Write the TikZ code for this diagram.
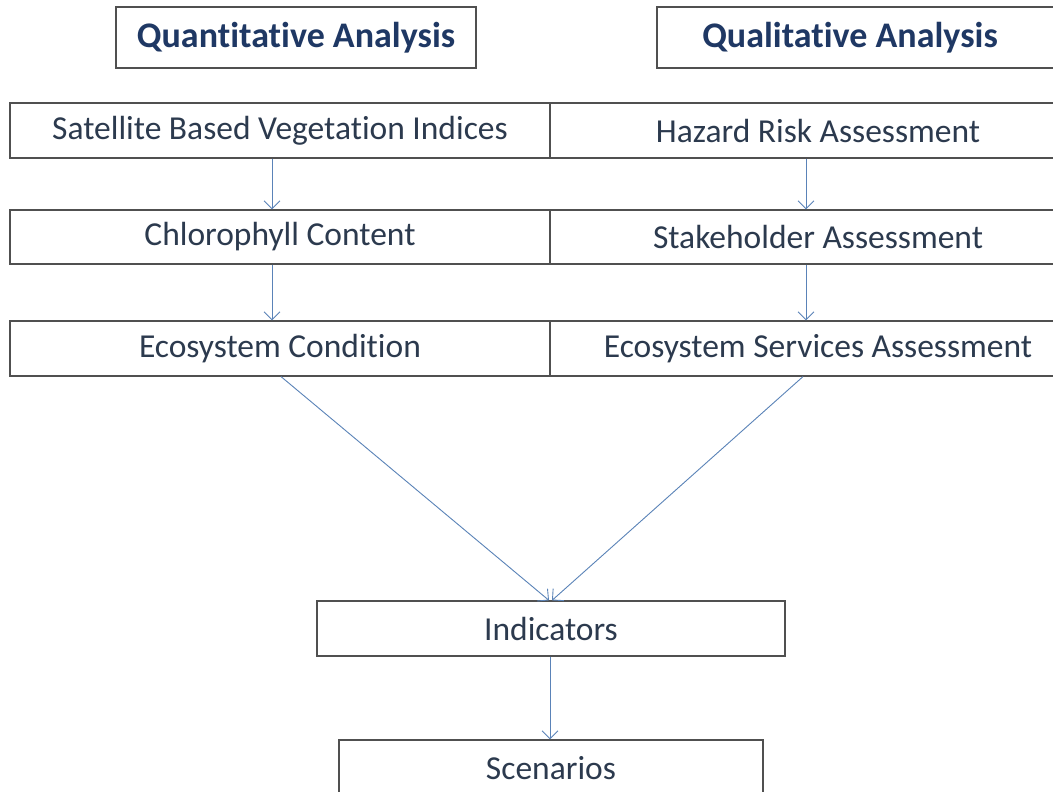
\documentclass[tikz,border=0pt]{standalone}
\usepackage{fontspec}
\setmainfont[Ligatures=NoCommon]{Carlito}
\usetikzlibrary{arrows.meta}
\definecolor{boxline}{HTML}{505050}
\definecolor{hdrtext}{HTML}{1F3864}
\definecolor{bodytext}{HTML}{2C3A4E}
\definecolor{arrowcol}{HTML}{5A83B8}
\tikzset{
  box/.style={draw=boxline, line width=1.2pt, inner sep=0pt, text=bodytext, font=\fontsize{33.5}{40}\selectfont, anchor=center},
  hdrbox/.style={draw=boxline, line width=1.2pt, inner sep=0pt},
  hdrlabel/.style={text=hdrtext, font=\fontsize{36}{42}\selectfont\bfseries, inner sep=0pt},
  conn/.style={draw=arrowcol, line width=0.9pt, -{Straight Barb[length=8pt,width=16pt]}}
}
\begin{document}
\begin{tikzpicture}[x=1pt,y=-1pt]
\useasboundingbox[fill=white] (0,0) rectangle (1053,792);
% headers
\node[hdrbox, minimum width=360pt, minimum height=61pt] (quantbox) at (296,37.5) {};
\node[hdrlabel] (quant) at (296,37.5) {Quantitative Analysis};
\node[hdrbox, minimum width=430pt, minimum height=61pt] (qualbox) at (872,37.5) {};
\node[hdrlabel] (qual) at (850,37.5) {Qualitative Analysis};
% left column
\node[box, minimum width=540pt, minimum height=55pt] (l1) at (280,130.5) {Satellite Based Vegetation Indices};
\node[box, minimum width=540pt, minimum height=54pt] (l2) at (280,237) {Chlorophyll Content};
\node[box, minimum width=540pt, minimum height=55pt] (l3) at (280,348.5) {Ecosystem Condition};
% right column
\node[box, minimum width=536pt, minimum height=55pt] (r1) at (818,130.5) {Hazard Risk Assessment};
\node[box, minimum width=536pt, minimum height=54pt] (r2) at (818,237) {Stakeholder Assessment};
\node[box, minimum width=536pt, minimum height=55pt] (r3) at (818,348.5) {Ecosystem Services Assessment};
% bottom
\node[box, minimum width=468pt, minimum height=55pt] (ind) at (551,628.5) {Indicators};
\node[box, minimum width=424pt, minimum height=56pt] (scen) at (551,768) {Scenarios};
% connectors
\draw[conn] ([xshift=-8pt]l1.south) -- ([xshift=-8pt]l2.north);
\draw[conn] ([xshift=-8pt]l2.south) -- ([xshift=-8pt]l3.north);
\draw[conn] ([xshift=-12pt]r1.south) -- ([xshift=-12pt]r2.north);
\draw[conn] ([xshift=-12pt]r2.south) -- ([xshift=-12pt]r3.north);
\draw[conn] ([xshift=1pt]l3.south) -- ([xshift=-2pt]ind.north);
\draw[conn] ([xshift=-15pt]r3.south) -- ([xshift=1pt]ind.north);
\draw[conn] ([xshift=-1pt]ind.south) -- ([xshift=-1pt]scen.north);
\end{tikzpicture}
\end{document}
